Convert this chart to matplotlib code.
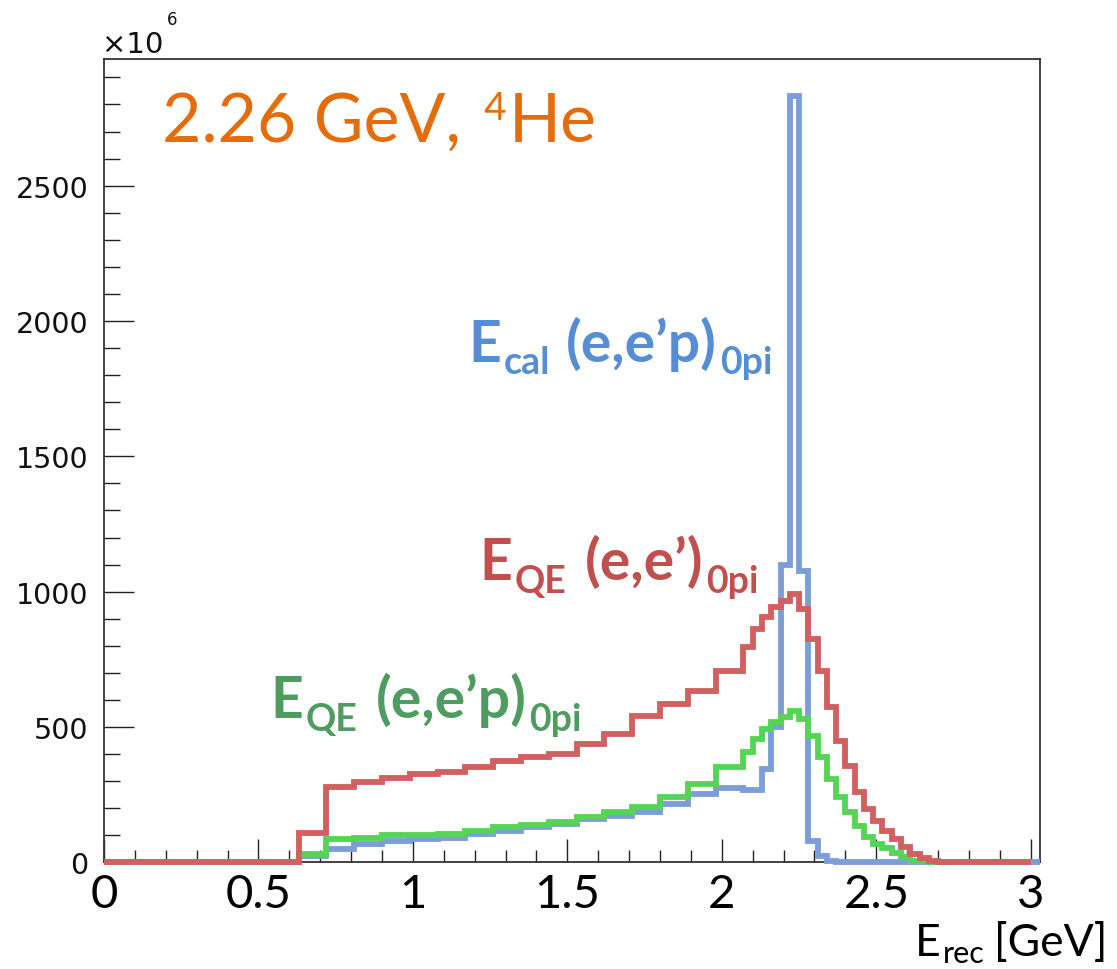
import numpy as np
import matplotlib
matplotlib.use("Agg")
import matplotlib.pyplot as plt
from matplotlib.transforms import IdentityTransform
from matplotlib.ticker import MultipleLocator

W, H, DPI = 1117, 970, 100

# ---------------- data ----------------
# coarse bins (0.09 GeV) from 0 to 2.07, fine bins (0.03 GeV) from 2.07 to 3.00
coarse_edges = np.round(np.arange(0.0, 2.07 + 1e-6, 0.09), 2)
fine_edges = np.round(np.arange(2.10, 3.00 + 1e-6, 0.03), 2)
edges = np.concatenate([coarse_edges, fine_edges])
blue_edges = np.append(edges, 3.03)

# E_QE (e,e')_0pi  (red)
red_coarse = [0, 0, 0, 0, 0, 0, 0,
              107, 277, 296, 310, 326, 335, 351, 376, 388, 400, 437, 474, 542, 585, 632, 705]
red_fine = [794, 862, 905, 942, 967, 990, 936, 826, 708, 573, 449, 357, 259, 197, 154,
            117, 86, 55, 31, 15, 4, 0, 0, 0, 0, 0, 0, 0, 0, 0, 0]

# E_QE (e,e'p)_0pi  (green)
green_coarse = [0, 0, 0, 0, 0, 0, 0,
                31, 86, 90, 101, 101, 104, 117, 129, 138, 148, 166, 185, 203, 240, 289, 351]
green_fine = [406, 456, 493, 520, 536, 560, 530, 468, 390, 308, 240, 185, 135, 92, 68,
              52, 34, 18, 6, 3, 1, 0, 0, 0, 0, 0, 0, 0, 0, 0, 0]

# E_cal (e,e'p)_0pi  (blue)
blue_coarse = [0, 0, 0, 0, 0, 0, 0,
               25, 49, 68, 80, 86, 90, 105, 117, 129, 141, 160, 172, 187, 215, 252, 274]
blue_fine = [268, 268, 345, 500, 1100, 2832, 1077, 80, 22, 5, 0, 0, 0, 0, 0,
             0, 0, 0, 0, 0, 0, 0, 0, 0, 0, 0, 0, 0, 0, 0, 0, 0]

red_vals = np.array(red_coarse + red_fine, dtype=float)
green_vals = np.array(green_coarse + green_fine, dtype=float)
blue_vals = np.array(blue_coarse + blue_fine, dtype=float)

x_ticks = [0, 0.5, 1, 1.5, 2, 2.5, 3]
x_ticklabels = ["0", "0.5", "1", "1.5", "2", "2.5", "3"]
y_ticks = [0, 500, 1000, 1500, 2000, 2500]
y_ticklabels = ["0", "500", "1000", "1500", "2000", "2500"]

# ---------------- style ----------------
C_BLUE = "#7b9ed8"
C_RED = "#d26060"
C_GREEN = "#55d455"
T_BLUE = "#558ed5"
T_RED = "#c0504d"
T_GREEN = "#509b5f"
T_ORANGE = "#e46c0a"
LW = 4.2

fig = plt.figure(figsize=(W / DPI, H / DPI), dpi=DPI)
ax = fig.add_axes([104 / W, (H - 863.3) / H, (1040 - 104) / W, (863.3 - 60) / H])

ax.stairs(blue_vals, blue_edges, color=C_BLUE, lw=LW, zorder=3, clip_on=False)
ax.stairs(green_vals, edges, color=C_GREEN, lw=LW, zorder=4, clip_on=False)
ax.stairs(red_vals, edges, color=C_RED, lw=LW, zorder=5, clip_on=False)

ax.set_xlim(0, 3.03)
ax.set_ylim(0, 2968)

for s in ax.spines.values():
    s.set_linewidth(1.3)
    s.set_color("#333333")

ax.set_xticks(x_ticks)
ax.set_xticklabels(x_ticklabels, fontfamily="Lato", fontsize=34)
ax.set_yticks(y_ticks)
ax.set_yticklabels(y_ticklabels, fontfamily="DejaVu Sans", fontsize=20.5, color="#111111")
ax.xaxis.set_minor_locator(MultipleLocator(0.1))
ax.yaxis.set_minor_locator(MultipleLocator(100))
ax.tick_params(axis="x", which="major", direction="in", length=16.5, width=1.0,
               color="#222222", top=False, pad=8)
ax.tick_params(axis="x", which="minor", direction="in", length=8.6, width=1.0,
               color="#222222", top=False)
ax.tick_params(axis="y", which="major", direction="in", length=21.6, width=1.0,
               color="#222222", right=False, pad=11)
ax.tick_params(axis="y", which="minor", direction="in", length=11.5, width=1.0,
               color="#222222", right=False)

# ---------------- rich text helper (pixel coords, y measured from top) ----------------
renderer = fig.canvas.get_renderer()


def rich(x0, base, parts, color, family, weight="normal"):
    x = x0
    for s, size, dy, gap in parts:
        t = fig.text(x, H - (base + dy), s, transform=IdentityTransform(),
                     fontsize=size, color=color, family=family, fontweight=weight,
                     ha="left", va="baseline")
        bb = t.get_window_extent(renderer=renderer)
        x = bb.x1 + gap


# x10^6 multiplier
rich(102, 53, [("\u00d710", 21, 0, 3), ("6", 12, -28, 0)], "#111111", "DejaVu Sans")

# title
rich(162, 142, [("2.26 GeV,", 49, 0, 22), ("4", 28, -22, 3), ("He", 49, 0, 0)],
     T_ORANGE, "Lato")

# series labels
rich(468, 362, [("E", 41, 0, 3), ("cal", 27, 12, 16), ("(e,e\u2019p)", 41, 0, 3), ("0pi", 27, 12, 0)],
     T_BLUE, "Lato", "bold")
rich(479, 580, [("E", 41, 0, 3), ("QE", 27, 13, 18), ("(e,e\u2019)", 41, 0, 3), ("0pi", 27, 13, 0)],
     T_RED, "Lato", "bold")
rich(270, 718, [("E", 41, 0, 3), ("QE", 27, 13, 18), ("(e,e\u2019p)", 41, 0, 3), ("0pi", 27, 13, 0)],
     T_GREEN, "Lato", "bold")

# x-axis title
rich(915, 956, [("E", 32, 0, 2), ("rec", 22, 7, 9), ("[GeV]", 32, 0, 0)], "#000000", "Lato")

fig.savefig("out.png", dpi=DPI)
